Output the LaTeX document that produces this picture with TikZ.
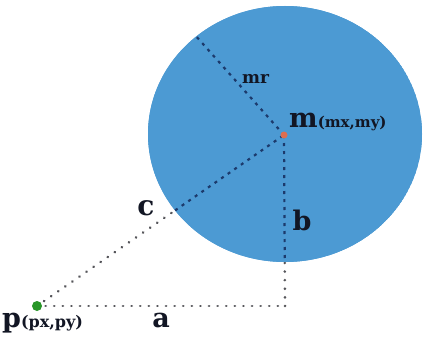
\documentclass[tikz,border=0pt]{standalone}
\usepackage{fontspec}
\setmainfont{DejaVu Serif}
\definecolor{discblue}{RGB}{76,154,211}
\definecolor{linkblue}{RGB}{28,58,108}
\definecolor{linkgray}{RGB}{85,85,90}
\definecolor{inkdark}{RGB}{18,22,36}
\definecolor{mdot}{RGB}{222,110,80}
\definecolor{pdot}{RGB}{40,150,40}
\tikzset{
  lbl/.style={inner sep=0pt, text=inkdark, font=\bfseries},
  outdots/.style={linkgray, line width=2.8pt, line cap=round, dash pattern=on 0.1pt off 8.5pt},
  indots/.style={linkblue, line width=2.2pt, dash pattern=on 3pt off 5pt},
}
\begin{document}
\begin{tikzpicture}[x=1pt,y=-1pt]
\useasboundingbox (0,0) rectangle (423,337);
\fill[white] (0,0) rectangle (423,337);
% disc
\fill[discblue] (285,134) ellipse [x radius=137, y radius=128];
% points
\coordinate (m) at (284,135);
\coordinate (p) at (37,306);
\coordinate (corner) at (285,306);
\coordinate (rimpt) at (195,35);
% connectors outside disc
\draw[outdots] (p) -- (m);
\draw[outdots] (p) -- (corner);
\draw[outdots] (corner) -- (m);
% connectors inside disc
\begin{scope}
\clip (285,134) ellipse [x radius=137, y radius=128];
\fill[discblue] (285,134) ellipse [x radius=137, y radius=128];
\draw[indots] (p) -- (m);
\draw[indots] (corner) -- (m);
\end{scope}
\draw[indots] (m) -- (rimpt);
% dots
\node[circle, fill=mdot, inner sep=0pt, minimum size=7pt] (mpt) at (m) {};
\node[circle, fill=pdot, inner sep=0pt, minimum size=10pt] (ppt) at (p) {};
% labels
\node[lbl, anchor=base west] (mlbl) at (289,127) {\fontsize{27}{27}\selectfont m\fontsize{15}{15}\selectfont(mx,my)};
\node[lbl, anchor=base west] (mrlbl) at (242,83) {\fontsize{17}{17}\selectfont mr};
\node[lbl, anchor=base] (clbl) at (146,215) {\fontsize{28}{28}\selectfont c};
\node[lbl, anchor=base] (blbl) at (302,230) {\fontsize{27}{27}\selectfont b};
\node[lbl, anchor=base] (albl) at (161,327) {\fontsize{27}{27}\selectfont a};
\node[lbl, anchor=base west] (plbl) at (2,327) {\fontsize{27}{27}\selectfont p\fontsize{16}{16}\selectfont(px,py)};
\end{tikzpicture}
\end{document}
